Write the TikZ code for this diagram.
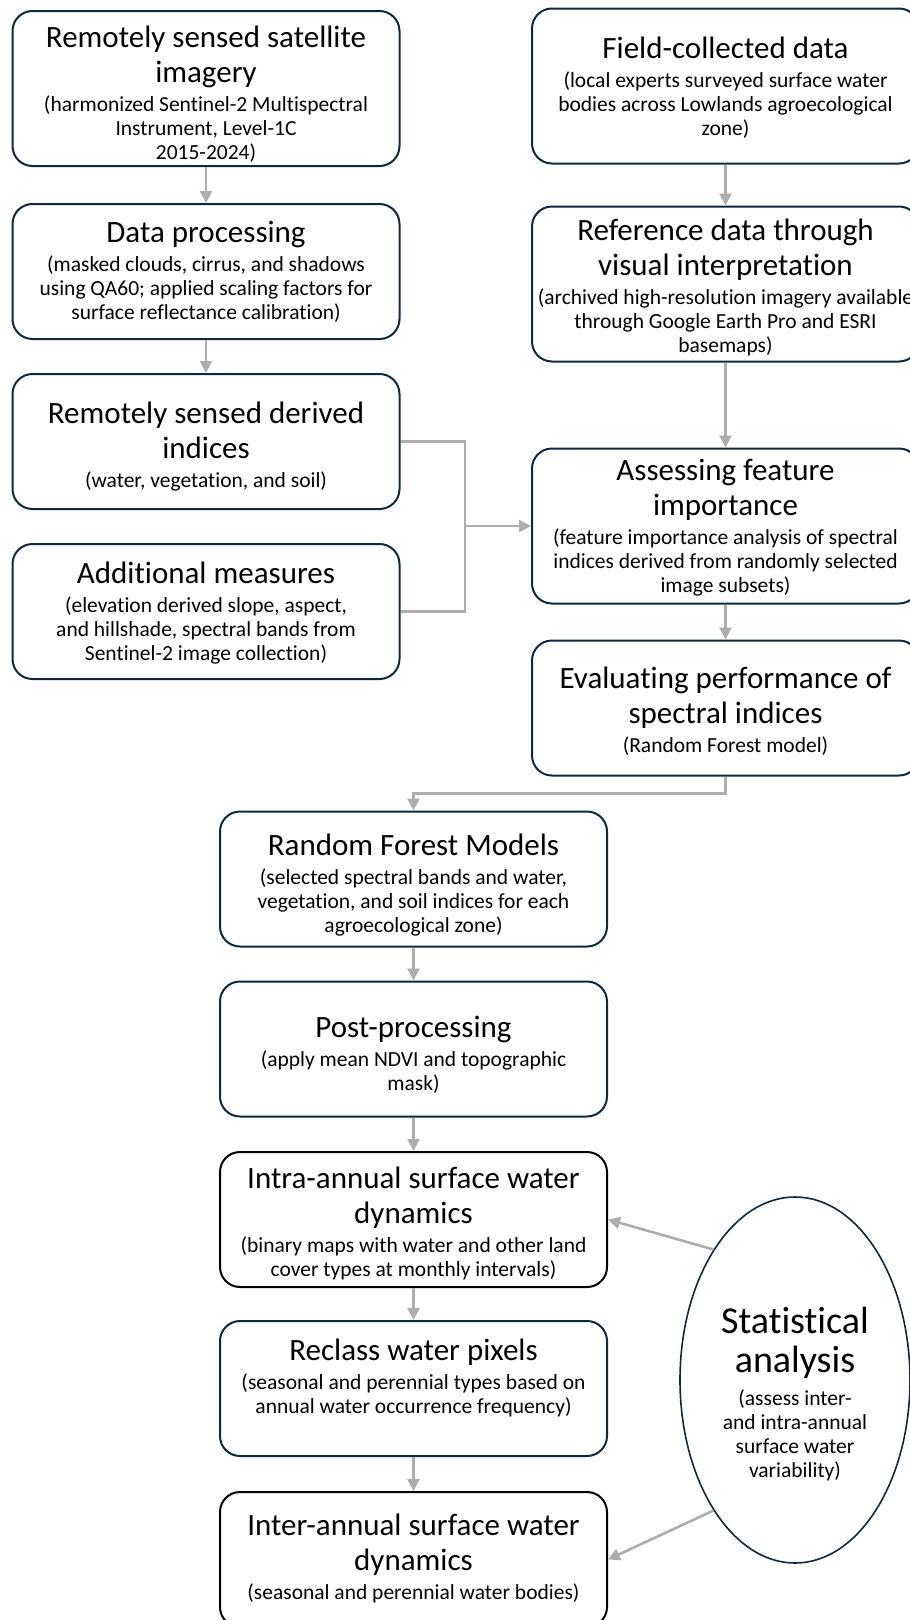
\documentclass[tikz,border=0pt]{standalone}
\usepackage{fontspec}
\setmainfont{Carlito}[Ligatures=NoCommon]
\usetikzlibrary{arrows.meta,shapes.geometric}
\definecolor{navy}{HTML}{10293A}
\definecolor{arrgray}{HTML}{ADADAD}
\tikzset{
  boxnode/.style={draw=navy, line width=2pt, rounded corners=20pt, minimum width=387pt, inner sep=0pt},
  blackbox/.style={boxnode, draw=black},
  tallbox/.style={minimum height=155pt},
  shortbox/.style={minimum height=135pt},
  ttl/.style={anchor=north, align=center, inner sep=0pt, font=\fontsize{31}{35}\selectfont},
  bigttl/.style={ttl, font=\fontsize{38}{39}\selectfont},
  subtxt/.style={anchor=north, align=center, inner sep=0pt, font=\fontsize{21.5}{24}\selectfont, yshift=-2pt},
  arr/.style={draw=arrgray, line width=2.6pt, -{Triangle[length=12pt,width=12pt]}},
  lin/.style={draw=arrgray, line width=2.6pt},
}
\begin{document}
\begin{tikzpicture}[x=1pt,y=-1pt]
\useasboundingbox (0,0) rectangle (910,1620);
% left column
\node[boxnode,tallbox] (A) at (206,88.5) {};
\node[ttl] (At) at (206,22.5) {\strut Remotely sensed satellite\\imagery\strut};
\node[subtxt] (As) at (At.south) {\strut(harmonized Sentinel-2 Multispectral\\Instrument, Level-1C\\2015-2024)\strut};

\node[boxnode,shortbox] (B) at (206,271.5) {};
\node[ttl] (Bt) at (206,217.5) {\strut Data processing\strut};
\node[subtxt] (Bs) at (Bt.south) {\strut(masked clouds, cirrus, and shadows\\using QA60; applied scaling factors for\\surface reflectance calibration)\strut};

\node[boxnode,shortbox] (C) at (206,441.5) {};
\node[ttl] (Ct) at (206,398.5) {\strut Remotely sensed derived\\indices\strut};
\node[subtxt] (Cs) at (Ct.south) {\strut(water, vegetation, and soil)\strut};

\node[boxnode,shortbox] (D) at (206,611.5) {};
\node[ttl] (Dt) at (206,558.5) {\strut Additional measures\strut};
\node[subtxt] (Ds) at (Dt.south) {\strut(elevation derived slope, aspect,\\and hillshade, spectral bands from\\Sentinel-2 image collection)\strut};

% right column
\node[boxnode,tallbox] (E) at (725.5,86) {};
\node[ttl] (Et) at (725.5,33.5) {\strut Field-collected data\strut};
\node[subtxt] (Es) at (Et.south) {\strut(local experts surveyed surface water\\bodies across Lowlands agroecological\\zone)\strut};

\node[boxnode,tallbox] (F) at (725.5,284) {};
\node[ttl] (Ft) at (725.5,215.5) {\strut Reference data through\\visual interpretation\strut};
\node[subtxt] (Fs) at (Ft.south) {\strut(archived high-resolution imagery available\\through Google Earth Pro and ESRI\\basemaps)\strut};

\node[boxnode,tallbox] (G) at (725.5,526) {};
\node[ttl] (Gt) at (725.5,455.5) {\strut Assessing feature\\importance\strut};
\node[subtxt] (Gs) at (Gt.south) {\strut(feature importance analysis of spectral\\indices derived from randomly selected\\image subsets)\strut};

\node[boxnode,shortbox] (H) at (725.5,708) {};
\node[ttl] (Ht) at (725.5,663.5) {\strut Evaluating performance of\\spectral indices\strut};
\node[subtxt] (Hs) at (Ht.south) {\strut(Random Forest model)\strut};

% centre column
\node[boxnode,shortbox] (I) at (413.5,879) {};
\node[ttl] (It) at (413.5,830.5) {\strut Random Forest Models\strut};
\node[subtxt] (Is) at (It.south) {\strut(selected spectral bands and water,\\vegetation, and soil indices for each\\agroecological zone)\strut};

\node[boxnode,shortbox] (J) at (413.5,1049) {};
\node[ttl] (Jt) at (413.5,1012.5) {\strut Post-processing\strut};
\node[subtxt] (Js) at (Jt.south) {\strut(apply mean NDVI and topographic\\mask)\strut};

\node[blackbox,shortbox] (K) at (413.5,1219.5) {};
\node[ttl] (Kt) at (413.5,1163.5) {\strut Intra-annual surface water\\dynamics\strut};
\node[subtxt] (Ks) at (Kt.south) {\strut(binary maps with water and other land\\cover types at monthly intervals)\strut};

\node[boxnode,shortbox] (L) at (413.5,1388.5) {};
\node[ttl] (Lt) at (413.5,1335.5) {\strut Reclass water pixels\strut};
\node[subtxt] (Ls) at (Lt.south) {\strut(seasonal and perennial types based on\\annual water occurrence frequency)\strut};

\node[blackbox,shortbox] (M) at (413.5,1559.5) {};
\node[ttl] (Mt) at (413.5,1510.5) {\strut Inter-annual surface water\\dynamics\strut};
\node[subtxt] (Ms) at (Mt.south) {\strut(seasonal and perennial water bodies)\strut};

% ellipse
\node[ellipse, draw=navy, line width=1.6pt, minimum width=230pt, minimum height=366pt, inner sep=0pt] (S) at (795,1380) {};
\node[bigttl] (St) at (795,1305.5) {\strut Statistical\\analysis\strut};
\node[subtxt, yshift=-3pt] (Ss) at (St.south) {\strut(assess inter-\\and intra-annual\\surface water\\variability)\strut};

% connectors
\draw[arr] (A) -- (B);
\draw[arr] (B) -- (C);
\coordinate (mj) at (465,526);
\draw[lin] (C.east) -| (mj) |- (D.east);
\draw[arr] (mj) -- (mj -| G.west);
\draw[arr] (E) -- (F);
\draw[arr] (F) -- (G);
\draw[arr] (G) -- (H);
\draw[arr] (H.south) -- ++(0,17) -| (I.north);
\draw[arr] (I) -- (J);
\draw[arr] (J) -- (K);
\draw[arr] (K) -- (L);
\draw[arr] (L) -- (M);
\draw[arr] (S.122) -- (K.east);
\draw[arr] (S.238) -- (M.east);
\end{tikzpicture}
\end{document}
